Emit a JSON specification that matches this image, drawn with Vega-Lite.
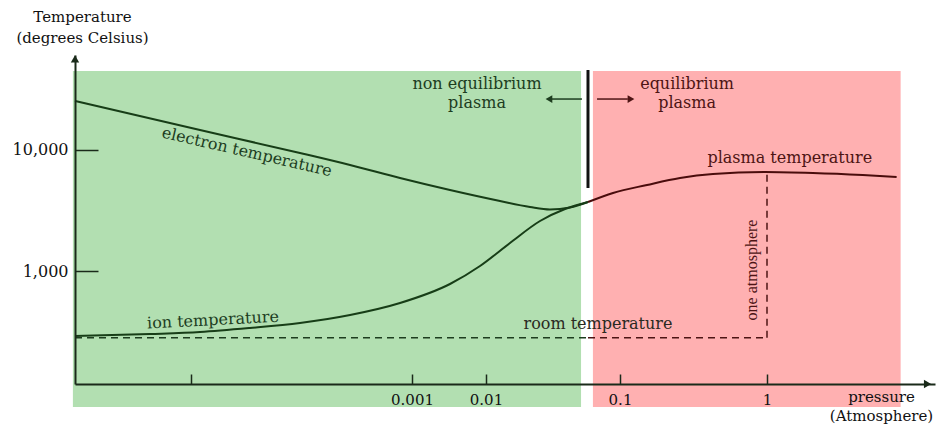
{
  "$schema": "https://vega.github.io/schema/vega-lite/v6.json",
  "width": 860,
  "height": 329,
  "autosize": {"type": "none"},
  "padding": {"left": 75, "top": 55, "right": 6, "bottom": 44},
  "background": "white",
  "config": {
    "view": {"stroke": null},
    "axis": {
      "grid": false,
      "labelFont": "DejaVu Serif",
      "labelFontSize": 15,
      "labelColor": "#111111",
      "titleFont": "DejaVu Serif",
      "titleFontSize": 15,
      "titleFontWeight": "normal",
      "titleColor": "#111111",
      "domainColor": "#1a2a1a",
      "domainWidth": 2,
      "tickColor": "#1a2a1a",
      "tickWidth": 1.5,
      "labelOverlap": false,
      "labelFlush": false
    }
  },
  "datasets": {
    "regions": [
      {"region": "non equilibrium", "p": 9.2e-8, "p2": 0.0512, "t": 75.2, "t2": 44990},
      {"region": "equilibrium", "p": 0.0628, "p2": 8.16, "t": 75.2, "t2": 44990}
    ],
    "curves": [
      {"series": "electron", "p": 1e-7, "t": 25400},
      {"series": "electron", "p": 1.206e-5, "t": 14620},
      {"series": "electron", "p": 9.69e-5, "t": 9445},
      {"series": "electron", "p": 2.75e-4, "t": 7515},
      {"series": "electron", "p": 7.79e-4, "t": 5870},
      {"series": "electron", "p": 3.26e-3, "t": 4670},
      {"series": "electron", "p": 0.01272, "t": 3789},
      {"series": "electron", "p": 0.0213, "t": 3381},
      {"series": "electron", "p": 0.030, "t": 3224},
      {"series": "electron", "p": 0.04236, "t": 3348},
      {"series": "electron", "p": 0.0577, "t": 3715},
      {"series": "ion", "p": 1e-7, "t": 290},
      {"series": "ion", "p": 1.964e-6, "t": 301.5},
      {"series": "ion", "p": 1.206e-5, "t": 313},
      {"series": "ion", "p": 3.42e-5, "t": 338},
      {"series": "ion", "p": 9.69e-5, "t": 372},
      {"series": "ion", "p": 2.75e-4, "t": 433},
      {"series": "ion", "p": 7.79e-4, "t": 544},
      {"series": "ion", "p": 3.26e-3, "t": 781},
      {"series": "ion", "p": 8.3e-3, "t": 1100},
      {"series": "ion", "p": 0.0151, "t": 1704},
      {"series": "ion", "p": 0.0253, "t": 2589},
      {"series": "ion", "p": 0.0389, "t": 3254},
      {"series": "ion", "p": 0.0577, "t": 3715},
      {"series": "plasma", "p": 0.0577, "t": 3715},
      {"series": "plasma", "p": 0.0887, "t": 4416},
      {"series": "plasma", "p": 0.1527, "t": 5143},
      {"series": "plasma", "p": 0.256, "t": 5870},
      {"series": "plasma", "p": 0.429, "t": 6337},
      {"series": "plasma", "p": 0.969, "t": 6577},
      {"series": "plasma", "p": 2.056, "t": 6457},
      {"series": "plasma", "p": 4.5, "t": 6209},
      {"series": "plasma", "p": 7.66, "t": 5985}
    ],
    "guides": [
      {"g": "room-a", "part": "green", "p": 1e-7, "t": 281},
      {"g": "room-a", "part": "green", "p": 0.0577, "t": 281},
      {"g": "room-b", "part": "red", "p": 0.0577, "t": 281},
      {"g": "room-b", "part": "red", "p": 1, "t": 281},
      {"g": "atm", "part": "red", "p": 1, "t": 281},
      {"g": "atm", "part": "red", "p": 1, "t": 6577}
    ],
    "arrows": [
      {"dir": "left", "p": 0.052, "p2": 0.031, "t": 26370, "hp": 0.0295},
      {"dir": "right", "p": 0.0674, "p2": 0.113, "t": 26370, "hp": 0.1188}
    ]
  },
  "encoding": {
    "x": {
      "field": "p",
      "type": "quantitative",
      "scale": {"type": "log", "domain": [1e-7, 1e-5, 0.001, 0.01, 0.1, 1, 14], "range": [0, 116, 337, 411, 545, 692, 860], "nice": false},
      "axis": {
        "zindex": 2,
        "values": [1e-5, 0.001, 0.01, 0.1, 1],
        "format": "~g",
        "labelExpr": "datum.value < 0.0001 ? '' : datum.label",
        "tickSize": -10,
        "labelPadding": 18,
        "title": ["pressure", "(Atmosphere)"],
        "titleX": 806,
        "titleY": 17,
        "titleAlign": "center",
        "titleBaseline": "alphabetic",
        "titleLineHeight": 19
      }
    },
    "y": {
      "field": "t",
      "type": "quantitative",
      "scale": {"type": "log", "domain": [116.5, 60950], "nice": false},
      "axis": {
        "zindex": 2,
        "values": [1000, 10000],
        "format": ",",
        "tickSize": -23,
        "labelPadding": 30,
        "labelFontSize": 16,
        "title": ["Temperature", "(degrees Celsius)"],
        "titleAngle": 0,
        "titleX": 7,
        "titleY": -34,
        "titleAlign": "center",
        "titleBaseline": "alphabetic",
        "titleLineHeight": 21
      }
    }
  },
  "layer": [
    {
      "data": {"name": "regions"},
      "transform": [{"filter": "datum.region === 'non equilibrium'"}],
      "mark": {"type": "rect", "color": "#b2dfb1"},
      "encoding": {"x2": {"field": "p2"}, "y2": {"field": "t2"}}
    },
    {
      "data": {"name": "regions"},
      "transform": [{"filter": "datum.region === 'equilibrium'"}],
      "mark": {"type": "rect", "color": "#ffb0b1"},
      "encoding": {"x2": {"field": "p2"}, "y2": {"field": "t2"}}
    },
    {
      "data": {"name": "guides"},
      "transform": [{"filter": "datum.part === 'green'"}],
      "mark": {"type": "line", "color": "#1d3d1f", "strokeWidth": 1.5, "strokeDash": [7, 5]},
      "encoding": {"detail": {"field": "g"}}
    },
    {
      "data": {"name": "guides"},
      "transform": [{"filter": "datum.part === 'red'"}],
      "mark": {"type": "line", "color": "#4d1414", "strokeWidth": 1.5, "strokeDash": [7, 5]},
      "encoding": {"detail": {"field": "g"}, "order": {"field": "t"}}
    },
    {
      "data": {"name": "curves"},
      "transform": [{"filter": "datum.series !== 'plasma'"}],
      "mark": {"type": "line", "color": "#173d17", "strokeWidth": 2, "interpolate": "monotone"},
      "encoding": {"detail": {"field": "series"}}
    },
    {
      "data": {"name": "curves"},
      "transform": [{"filter": "datum.series === 'plasma'"}],
      "mark": {"type": "line", "color": "#4a0c0c", "strokeWidth": 2, "interpolate": "monotone"},
      "encoding": {}
    },
    {
      "data": {"values": [{"p": 0.0577, "t": 45800, "t2": 4853}]},
      "mark": {"type": "rule", "color": "#111111", "strokeWidth": 3},
      "encoding": {"y2": {"field": "t2"}}
    },
    {
      "data": {"name": "arrows"},
      "transform": [{"filter": "datum.dir === 'left'"}],
      "mark": {"type": "rule", "color": "#1d3d1f", "strokeWidth": 1.5},
      "encoding": {"x2": {"field": "p2"}}
    },
    {
      "data": {"name": "arrows"},
      "transform": [{"filter": "datum.dir === 'left'"}],
      "mark": {"type": "point", "shape": "triangle-left", "filled": true, "opacity": 1, "color": "#1d3d1f", "size": 60},
      "encoding": {"x": {"field": "hp", "type": "quantitative"}}
    },
    {
      "data": {"name": "arrows"},
      "transform": [{"filter": "datum.dir === 'right'"}],
      "mark": {"type": "rule", "color": "#4d1414", "strokeWidth": 1.5},
      "encoding": {"x2": {"field": "p2"}}
    },
    {
      "data": {"name": "arrows"},
      "transform": [{"filter": "datum.dir === 'right'"}],
      "mark": {"type": "point", "shape": "triangle-right", "filled": true, "opacity": 1, "color": "#4d1414", "size": 60},
      "encoding": {"x": {"field": "hp", "type": "quantitative"}}
    },
    {
      "data": {"values": [{"p": 1e-7, "t": 56500}]},
      "mark": {"type": "point", "shape": "triangle-up", "filled": true, "opacity": 1, "color": "#1a2a1a", "size": 70},
      "encoding": {}
    },
    {
      "data": {"values": [{"p": 12.45, "t": 116.5}]},
      "mark": {"type": "point", "shape": "triangle-right", "filled": true, "opacity": 1, "color": "#1a2a1a", "size": 70},
      "encoding": {}
    },
    {
      "data": {"values": [{"label": "electron temperature", "p": 3.21e-5, "t": 9627}]},
      "mark": {"type": "text", "font": "DejaVu Serif", "fontSize": 16, "angle": 13, "color": "#1d3d1f", "baseline": "middle", "align": "center"},
      "encoding": {"text": {"field": "label"}}
    },
    {
      "data": {"values": [{"label": "ion temperature", "p": 1.58e-5, "t": 393}]},
      "mark": {"type": "text", "font": "DejaVu Serif", "fontSize": 16, "angle": -3, "color": "#1d3d1f", "baseline": "middle", "align": "center"},
      "encoding": {"text": {"field": "label"}}
    },
    {
      "data": {"values": [{"label": "room temperature", "p": 0.0685, "t": 365}]},
      "mark": {"type": "text", "font": "DejaVu Serif", "fontSize": 16, "color": "#2a2a22", "baseline": "middle", "align": "center"},
      "encoding": {"text": {"field": "label"}}
    },
    {
      "data": {"values": [{"label": "non equilibrium", "p": 7.56e-3, "t": 35100}, {"label": "plasma", "p": 7.56e-3, "t": 24450}]},
      "mark": {"type": "text", "font": "DejaVu Serif", "fontSize": 16, "color": "#1d3d1f", "baseline": "middle", "align": "center"},
      "encoding": {"text": {"field": "label"}}
    },
    {
      "data": {"values": [{"label": "equilibrium", "p": 0.286, "t": 35100}, {"label": "plasma", "p": 0.286, "t": 24450}, {"label": "plasma temperature", "p": 1.43, "t": 8590}]},
      "mark": {"type": "text", "font": "DejaVu Serif", "fontSize": 16, "color": "#4d1414", "baseline": "middle", "align": "center"},
      "encoding": {"text": {"field": "label"}}
    },
    {
      "data": {"values": [{"label": "one atmosphere", "p": 0.79, "t": 1019}]},
      "mark": {"type": "text", "font": "Liberation Serif", "fontSize": 16, "angle": -90, "color": "#4d1414", "baseline": "middle", "align": "center"},
      "encoding": {"text": {"field": "label"}}
    }
  ]
}
